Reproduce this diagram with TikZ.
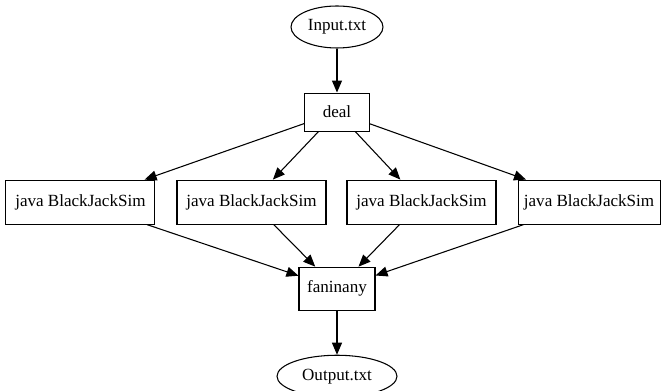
\documentclass[tikz,border=0pt]{standalone}
\usepackage{fontspec}
\setmainfont{Liberation Serif}
\usetikzlibrary{arrows.meta, positioning, shapes.geometric}
\tikzset{
    io/.style={
        ellipse, draw=black, line width=0.8pt, inner sep=0pt,
        minimum height=31.5pt,
        font=\fontsize{12.8}{15}\selectfont
    },
    job/.style={
        rectangle, draw=black, line width=0.8pt, inner sep=0pt,
        minimum width=111.75pt, minimum height=33pt,
        font=\fontsize{12.8}{15}\selectfont
    },
    arrow/.style={-{Triangle[length=9pt, width=7.5pt]}, line width=0.8pt, draw=black}
}

\begin{document}
\begin{tikzpicture}[node distance=33pt]
    \useasboundingbox (-252.75pt,20.25pt) rectangle (243.75pt,-273pt);

    \node[io, minimum width=69pt] (in) {Input.txt};
    \node[job, minimum width=48.75pt, minimum height=28.5pt, below=of in] (deal) {deal};
    \node[job, below=36pt of deal, xshift=-64.125pt] (sim2) {java BlackJackSim};
    \node[job, below=36pt of deal, xshift=63.375pt] (sim3) {java BlackJackSim};
    \node[job, left=15.75pt of sim2] (sim1) {java BlackJackSim};
    \node[job, minimum width=106.5pt, right=15.75pt of sim3] (sim4) {java BlackJackSim};
    \node[job, minimum width=57pt, minimum height=32.25pt, below=31.5pt of sim2, xshift=64.125pt] (fan) {faninany};
    \node[io, minimum width=90pt, below=of fan] (out) {Output.txt};

    \draw[arrow] (in) -- (deal);
    \foreach \s in {sim1, sim2, sim3, sim4} {
        \draw[arrow] (deal) -- (\s);
        \draw[arrow] (\s) -- (fan);
    }
    \draw[arrow] (fan) -- (out);
\end{tikzpicture}
\end{document}
